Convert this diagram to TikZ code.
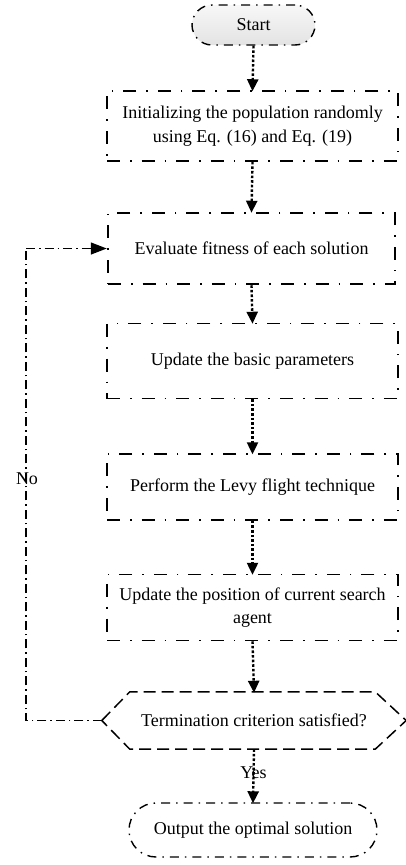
\documentclass[tikz,border=0pt]{standalone}
\usepackage{fontspec}
\setmainfont{Liberation Serif}
\usetikzlibrary{arrows.meta}
\begin{document}
\begin{tikzpicture}[x=1pt,y=-1pt,
  dashdot/.style={dash pattern=on 13pt off 10pt on 1.6pt off 10pt},
  procbox/.style={draw, line width=1.5pt, dashdot, rectangle, align=center,
     minimum width=291pt, font=\fontsize{18}{23.5}\selectfont, inner sep=0pt},
  termbox/.style={draw, line width=1.4pt, dash pattern=on 9pt off 6pt on 1.5pt off 6pt,
     rounded corners=20pt, align=center, font=\fontsize{18}{23.5}\selectfont, inner sep=0pt},
  flow/.style={line width=2.4pt, dash pattern=on 2.6pt off 2pt,
     -{Triangle[width=11pt,length=12pt]}, shorten >=-1pt},
  loopline/.style={line width=1.4pt, dash pattern=on 9pt off 4pt on 1.5pt off 4pt},
  lbl/.style={font=\fontsize{18}{23.5}\selectfont, inner sep=0pt}
]
\useasboundingbox (0,0) rectangle (406,865);

\node[termbox, top color=gray!6, bottom color=gray!22, minimum width=123pt, minimum height=40pt] (start) at (253.5,25) {Start};
\node[procbox, minimum height=70pt] (b1) at (252.5,126) {Initializing the population randomly\\using Eq. (16) and Eq. (19)};
\node[procbox, line width=2.5pt, minimum width=287pt, minimum height=71pt] (b2) at (251.5,248.5) {Evaluate fitness of each solution};
\node[procbox, minimum height=75pt] (b3) at (252.5,361) {Update the basic parameters};
\node[procbox, minimum height=66pt] (b4) at (252.5,487) {Perform the Levy flight technique};
\node[procbox, minimum height=66pt] (b5) at (252.5,607.5) {Update the position of current search\\agent};
\node[lbl, minimum width=304pt, minimum height=57pt] (hex) at (254,720.5) {Termination criterion satisfied?};
\draw[line width=1.5pt, dash pattern=on 12pt off 6pt]
  (hex.west) -- ([xshift=28pt]hex.north west) -- ([xshift=-31pt]hex.north east) -- (hex.east)
  -- ([xshift=-31pt]hex.south east) -- ([xshift=28pt]hex.south west) -- cycle;
\node[termbox, rounded corners=27pt, minimum width=248pt, minimum height=54pt] (out) at (253,830) {Output the optimal solution};

\draw[flow] (start.south) -- (b1.north);
\draw[flow] (b1.south) -- (b2.north);
\draw[flow] (b2.south) -- (b3.north);
\draw[flow] (b3.south) -- (b4.north);
\draw[flow] (b4.south) -- (b5.north);
\draw[flow] (b5.south) -- (hex.north);
\draw[flow] (hex.south) -- node[lbl, pos=0.45] {Yes} (out.north);

\coordinate (lb) at (26,720.5);
\coordinate (lt) at (26,248.5);
\draw[loopline] (hex.west) -- (lb) -- (lt);
\draw[loopline, -{Triangle[width=12pt,length=16pt]}] (lt) -- (b2.west);
\node[lbl] (no) at (27,479) {No};
\end{tikzpicture}
\end{document}
